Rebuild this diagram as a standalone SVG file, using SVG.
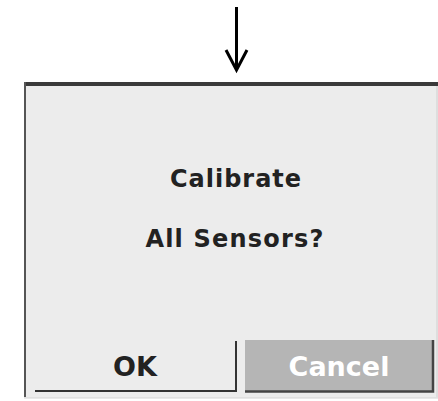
<svg xmlns="http://www.w3.org/2000/svg" width="438" height="401" viewBox="0 0 438 401">
<style>
.t{font-family:"DejaVu Sans","Verdana",sans-serif;font-weight:bold;text-anchor:middle}
</style>
<rect width="438" height="401" fill="#ffffff"/>
<g id="connectors">
<line x1="236.5" y1="7" x2="236.5" y2="69" stroke="#000" stroke-width="3"/>
<polyline points="226,50 236.5,70 247,50" fill="none" stroke="#000" stroke-width="3"/>
</g>
<g id="panel">
<rect x="24" y="82" width="414" height="316" fill="#ececec"/>
<rect x="24" y="82" width="414" height="4" fill="#3a3a3a"/>
<rect x="24" y="82" width="2" height="315" fill="#555"/>
<line x1="437" y1="86" x2="437" y2="397" stroke="#d0d0d0" stroke-width="1"/>
<line x1="24" y1="398" x2="438" y2="398" stroke="#d4d4d4" stroke-width="1"/>
</g>
<g id="message">
<text class="t" x="236" y="187" font-size="24" fill="#222" letter-spacing="1">Calibrate</text>
<text class="t" x="235" y="247" font-size="24" fill="#222" letter-spacing="1.2">All Sensors?</text>
</g>
<g id="ok">
<polyline points="35,391 236,391 236,341" fill="none" stroke="#333" stroke-width="2"/>
<text class="t" x="135" y="376" font-size="27" fill="#222">OK</text>
</g>
<g id="cancel">
<rect x="245" y="340" width="187" height="51" fill="#b5b5b5"/>
<polyline points="245,391.5 433,391.5 433,340" fill="none" stroke="#444" stroke-width="2.5"/>
<text class="t" x="339" y="376" font-size="27" fill="#ffffff">Cancel</text>
</g>
</svg>
